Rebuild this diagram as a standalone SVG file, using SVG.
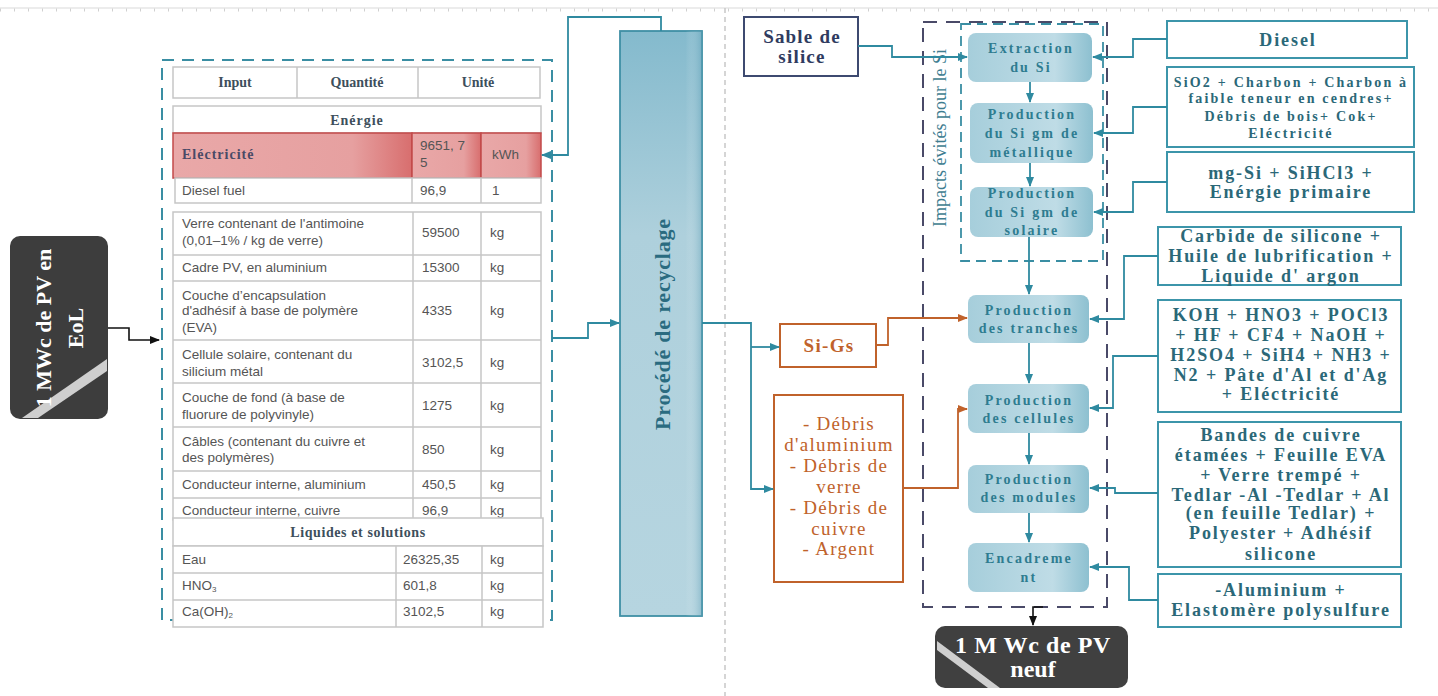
<svg xmlns="http://www.w3.org/2000/svg" width="1438" height="696" viewBox="0 0 1438 696">
<defs>
<style>
.sep{stroke:#c8c8c8;stroke-width:1.5;stroke-dasharray:5 4;fill:none}
.tdash{fill:none;stroke:#3a8ea3;stroke-width:2;stroke-dasharray:12 8}
.ddash{fill:none;stroke:#4a4a68;stroke-width:2;stroke-dasharray:14 9}
.idash{fill:none;stroke:#3a8ea3;stroke-width:1.8;stroke-dasharray:10 6}
.cell{fill:#fff;stroke:#c6c6c6;stroke-width:1.5}
.vl{stroke:#c6c6c6;stroke-width:1.5}
.vr{stroke:#c24a4a;stroke-width:1.5}
.hd{font-family:"Liberation Serif",serif;font-weight:bold;font-size:14px;fill:#3d4f5c;text-anchor:middle}
.tx{font-family:"Liberation Sans",Arial,sans-serif;font-size:13.5px;fill:#555}
.con{fill:none;stroke:#2f8aa0;stroke-width:1.8}
.ora{fill:none;stroke:#c0622b;stroke-width:1.8}
.pbox{fill:url(#pg);stroke:none}
.pt{font-family:"Liberation Serif",serif;font-weight:bold;font-size:14px;fill:#2e7c90;letter-spacing:2.2px;text-anchor:middle}
.rbox{fill:#fff;stroke:#3c95aa;stroke-width:2}
.rt{font-family:"Liberation Serif",serif;font-weight:bold;font-size:18px;fill:#2b6878;letter-spacing:1.9px;text-anchor:middle}
.rs{font-family:"Liberation Serif",serif;font-weight:bold;font-size:14px;fill:#2b6878;letter-spacing:2.2px;text-anchor:middle}
.ob{fill:#fff;stroke:#c0622b;stroke-width:2}
.ot{font-family:"Liberation Serif",serif;font-size:19px;fill:#c0622b;letter-spacing:1.3px;text-anchor:middle}
.wt{font-family:"Liberation Serif",serif;font-weight:bold;fill:#fff;text-anchor:middle}
</style>
<linearGradient id="pg" x1="0" y1="0" x2="1" y2="0">
<stop offset="0" stop-color="#a6cedb"/><stop offset="0.7" stop-color="#bfdce6"/><stop offset="1" stop-color="#8dc0d0"/>
</linearGradient>
<linearGradient id="rg" x1="0" y1="0" x2="0" y2="1">
<stop offset="0" stop-color="#84bacd"/><stop offset="0.35" stop-color="#aed0dc"/><stop offset="1" stop-color="#b6d5e0"/>
</linearGradient>
<linearGradient id="rgEdge" x1="0" y1="0" x2="1" y2="0">
<stop offset="0" stop-color="#ffffff" stop-opacity="0"/><stop offset="0.8" stop-color="#ffffff" stop-opacity="0"/><stop offset="1" stop-color="#5e9fb6" stop-opacity="0.45"/>
</linearGradient>
<linearGradient id="red" x1="0" y1="0" x2="1" y2="0">
<stop offset="0" stop-color="#e9a8a8"/><stop offset="0.75" stop-color="#e6a0a0"/><stop offset="1" stop-color="#d86e6e"/>
</linearGradient>
<marker id="at" viewBox="0 0 10 10" refX="9" refY="5" markerWidth="10" markerHeight="10" orient="auto" markerUnits="userSpaceOnUse"><path d="M0,1 L10,5 L0,9 z" fill="#2f8aa0"/></marker>
<marker id="ao" viewBox="0 0 10 10" refX="9" refY="5" markerWidth="10" markerHeight="10" orient="auto" markerUnits="userSpaceOnUse"><path d="M0,1 L10,5 L0,9 z" fill="#c0622b"/></marker>
<marker id="ak" viewBox="0 0 10 10" refX="9" refY="5" markerWidth="10" markerHeight="10" orient="auto" markerUnits="userSpaceOnUse"><path d="M0,1 L10,5 L0,9 z" fill="#111"/></marker>
</defs>
<rect x="0" y="0" width="1438" height="696" fill="#fff"/>
<!-- top ruler and separator -->
<line x1="0" y1="8" x2="1438" y2="8" stroke="#dadada" stroke-width="1.2"/>
<line x1="0" y1="10" x2="1438" y2="10" stroke="#d0d0d0" stroke-width="3" stroke-dasharray="1 13"/>
<line class="sep" x1="725" y1="8" x2="725" y2="696"/>

<!-- Left node -->
<g id="node-eol">
<rect x="10" y="236" width="98" height="183" rx="10" fill="#3d3d3d"/>
<path d="M22,418 L107,359 L107,371 L38,418 Z" fill="#cfcfcf"/>
<text class="wt" font-size="22" transform="translate(51,328) rotate(-90)">1 MWc de PV en</text>
<text class="wt" font-size="22" transform="translate(83,328) rotate(-90)">EoL</text>
</g>

<!-- Table -->
<g id="node-table">
<rect class="tdash" x="162" y="60" width="390" height="560"/>
<rect class="cell" x="173" y="67" width="367" height="31"/>
<line class="vl" x1="297" y1="67" x2="297" y2="98"/>
<line class="vl" x1="418" y1="67" x2="418" y2="98"/>
<text class="hd" x="235" y="87">Input</text>
<text class="hd" x="357" y="87">Quantité</text>
<text class="hd" x="478" y="87">Unité</text>

<rect class="cell" x="173" y="106" width="368" height="27"/>
<text class="hd" x="357" y="125" letter-spacing="1">Enérgie</text>
<rect x="173" y="133" width="239" height="45" fill="url(#red)" stroke="#c24a4a" stroke-width="1.5"/>
<rect x="412" y="133" width="69" height="45" fill="url(#red)" stroke="#c24a4a" stroke-width="1.5"/>
<rect x="481" y="133" width="60" height="45" fill="url(#red)" stroke="#c24a4a" stroke-width="1.5"/>
<text x="182" y="159" font-family="Liberation Serif,serif" font-weight="bold" font-size="14" fill="#4a4a66" letter-spacing="1">Eléctricité</text>
<text class="tx" x="420" y="150" fill="#6a5060">9651, 7</text>
<text class="tx" x="420" y="167" fill="#6a5060">5</text>
<text class="tx" x="492" y="159" fill="#6a5060">kWh</text>
<rect class="cell" x="175" y="178" width="366" height="25"/>
<line class="vl" x1="412" y1="178" x2="412" y2="203"/>
<line class="vl" x1="481" y1="178" x2="481" y2="203"/>
<text class="tx" x="182" y="195">Diesel fuel</text>
<text class="tx" x="420" y="195">96,9</text>
<text class="tx" x="492" y="195">1</text>

<rect class="cell" x="173" y="212" width="368" height="308"/>
<line class="vl" x1="413" y1="212" x2="413" y2="520"/>
<line class="vl" x1="481" y1="212" x2="481" y2="520"/>
<line class="vl" x1="173" y1="255" x2="541" y2="255"/>
<line class="vl" x1="173" y1="281" x2="541" y2="281"/>
<line class="vl" x1="173" y1="340" x2="541" y2="340"/>
<line class="vl" x1="173" y1="383" x2="541" y2="383"/>
<line class="vl" x1="173" y1="427" x2="541" y2="427"/>
<line class="vl" x1="173" y1="471" x2="541" y2="471"/>
<line class="vl" x1="173" y1="498" x2="541" y2="498"/>

<text class="tx" x="182" y="228">Verre contenant de l'antimoine</text>
<text class="tx" x="182" y="245">(0,01–1% / kg de verre)</text>
<text class="tx" x="422" y="237">59500</text><text class="tx" x="490" y="237">kg</text>
<text class="tx" x="182" y="272">Cadre PV, en aluminium</text>
<text class="tx" x="422" y="272">15300</text><text class="tx" x="490" y="272">kg</text>
<text class="tx" x="182" y="300">Couche d’encapsulation</text>
<text class="tx" x="182" y="315">d'adhésif à base de polymère</text>
<text class="tx" x="182" y="332">(EVA)</text>
<text class="tx" x="422" y="315">4335</text><text class="tx" x="490" y="315">kg</text>
<text class="tx" x="182" y="359">Cellule solaire, contenant du</text>
<text class="tx" x="182" y="376">silicium métal</text>
<text class="tx" x="422" y="367">3102,5</text><text class="tx" x="490" y="367">kg</text>
<text class="tx" x="182" y="402">Couche de fond (à base de</text>
<text class="tx" x="182" y="419">fluorure de polyvinyle)</text>
<text class="tx" x="422" y="410">1275</text><text class="tx" x="490" y="410">kg</text>
<text class="tx" x="182" y="446">Câbles (contenant du cuivre et</text>
<text class="tx" x="182" y="462">des polymères)</text>
<text class="tx" x="422" y="454">850</text><text class="tx" x="490" y="454">kg</text>
<text class="tx" x="182" y="489">Conducteur interne, aluminium</text>
<text class="tx" x="422" y="489">450,5</text><text class="tx" x="490" y="489">kg</text>
<text class="tx" x="182" y="515">Conducteur interne, cuivre</text>
<text class="tx" x="422" y="515">96,9</text><text class="tx" x="490" y="515">kg</text>

<rect class="cell" x="173" y="518" width="370" height="28"/>
<text class="hd" x="358" y="537" letter-spacing="0.6">Liquides et solutions</text>
<rect class="cell" x="173" y="546" width="370" height="81"/>
<line class="vl" x1="173" y1="573" x2="543" y2="573"/>
<line class="vl" x1="173" y1="600" x2="543" y2="600"/>
<line class="vl" x1="396" y1="546" x2="396" y2="627"/>
<line class="vl" x1="482" y1="546" x2="482" y2="627"/>
<text class="tx" x="182" y="564">Eau</text>
<text class="tx" x="403" y="564">26325,35</text><text class="tx" x="490" y="564">kg</text>
<text class="tx" x="182" y="590">HNO<tspan font-size="8" dy="2">3</tspan></text>
<text class="tx" x="403" y="590">601,8</text><text class="tx" x="490" y="590">kg</text>
<text class="tx" x="182" y="616">Ca(OH)<tspan font-size="8" dy="2">2</tspan></text>
<text class="tx" x="403" y="616">3102,5</text><text class="tx" x="490" y="616">kg</text>
</g>

<!-- Recycling process -->
<g id="node-recyclage">
<rect x="620" y="31" width="82" height="585" fill="url(#rg)" stroke="#3f8fa5" stroke-width="1.8"/>
<rect x="620" y="31" width="82" height="585" fill="url(#rgEdge)"/>
<text class="wt" font-size="22" fill="#2a6b80" style="fill:#2a6b80" letter-spacing="0.8" transform="translate(670,324) rotate(-90)">Procédé de recyclage</text>
</g>

<!-- Outputs of recycling -->
<g id="node-sigs">
<rect class="ob" x="780" y="324" width="96" height="43"/>
<text class="ot" x="829" y="352" font-weight="bold">Si-Gs</text>
</g>
<g id="node-debris">
<rect class="ob" x="774" y="395" width="129" height="187"/>
<text class="ot" x="839" y="430">- Débris</text>
<text class="ot" x="839" y="451">d'aluminium</text>
<text class="ot" x="839" y="472">- Débris de</text>
<text class="ot" x="839" y="493">verre</text>
<text class="ot" x="839" y="514">- Débris de</text>
<text class="ot" x="839" y="535">cuivre</text>
<text class="ot" x="839" y="555">- Argent</text>
</g>

<!-- Sable de silice -->
<g id="node-sable">
<rect x="744" y="17" width="114" height="59" fill="#fff" stroke="#3d4a70" stroke-width="2"/>
<text x="802" y="43" font-family="Liberation Serif,serif" font-weight="bold" font-size="19" fill="#2f3b60" letter-spacing="1.2" text-anchor="middle">Sable de</text>
<text x="802" y="63" font-family="Liberation Serif,serif" font-weight="bold" font-size="19" fill="#2f3b60" letter-spacing="1.2" text-anchor="middle">silice</text>
</g>

<!-- Impacts évités group -->
<g id="group-impacts">
<rect class="ddash" x="923" y="22" width="184" height="585"/>
<rect class="idash" x="961" y="24" width="142" height="237"/>
<text x="0" y="0" font-family="Liberation Serif,serif" font-size="18" fill="#3e7d90" text-anchor="middle" transform="translate(946,138) rotate(-90)">Impacts évités pour le Si</text>
</g>

<!-- Process boxes -->
<g id="node-extraction">
<rect class="pbox" x="968" y="33" width="124" height="49" rx="8"/>
<text class="pt" x="1031" y="53">Extraction</text>
<text class="pt" x="1031" y="72">du Si</text>
</g>
<g id="node-metallique">
<rect class="pbox" x="970" y="103" width="123" height="60" rx="8"/>
<text class="pt" x="1032" y="119">Production</text>
<text class="pt" x="1032" y="138">du Si gm de</text>
<text class="pt" x="1032" y="157">métallique</text>
</g>
<g id="node-solaire">
<rect class="pbox" x="970" y="187" width="123" height="50" rx="8"/>
<text class="pt" x="1032" y="198">Production</text>
<text class="pt" x="1032" y="217">du Si gm de</text>
<text class="pt" x="1032" y="235">solaire</text>
</g>
<g id="node-tranches">
<rect class="pbox" x="968" y="295" width="121" height="48" rx="8"/>
<text class="pt" x="1029" y="315">Production</text>
<text class="pt" x="1029" y="333">des tranches</text>
</g>
<g id="node-cellules">
<rect class="pbox" x="968" y="384" width="121" height="49" rx="8"/>
<text class="pt" x="1029" y="405">Production</text>
<text class="pt" x="1029" y="423">des cellules</text>
</g>
<g id="node-modules">
<rect class="pbox" x="968" y="465" width="121" height="48" rx="8"/>
<text class="pt" x="1029" y="484">Production</text>
<text class="pt" x="1029" y="502">des modules</text>
</g>
<g id="node-encadrement">
<rect class="pbox" x="968" y="543" width="121" height="49" rx="8"/>
<text class="pt" x="1029" y="563">Encadreme</text>
<text class="pt" x="1029" y="582">nt</text>
</g>

<!-- PV neuf -->
<g id="node-pv-neuf">
<rect x="935" y="626" width="193" height="62" rx="10" fill="#404040"/>
<path d="M937,641 L1000,688 L988,688 L937,650 Z" fill="#cfcfcf"/>
<text class="wt" font-size="24" x="1033" y="653" letter-spacing="0.6">1 M Wc de PV</text>
<text class="wt" font-size="24" x="1033" y="677">neuf</text>
</g>

<!-- Right input boxes -->
<g id="node-diesel">
<rect class="rbox" x="1167" y="21" width="240" height="37"/>
<text class="rt" x="1288" y="46" font-size="19">Diesel</text>
</g>
<g id="node-sio2">
<rect class="rbox" x="1167" y="67" width="247" height="80"/>
<text class="rs" x="1291" y="87">SiO2 + Charbon + Charbon à</text>
<text class="rs" x="1291" y="103">faible teneur en cendres+</text>
<text class="rs" x="1291" y="121">Débris de bois+ Cok+</text>
<text class="rs" x="1291" y="138">Eléctricité</text>
</g>
<g id="node-mgsi">
<rect class="rbox" x="1167" y="152" width="247" height="60"/>
<text class="rt" x="1291" y="179" font-size="20" letter-spacing="1.5">mg-Si + SiHCl3 +</text>
<text class="rt" x="1291" y="198" font-size="20" letter-spacing="1.5">Enérgie primaire</text>
</g>
<g id="node-carbide">
<rect class="rbox" x="1158" y="227" width="243" height="58"/>
<text class="rt" x="1281" y="242">Carbide de silicone +</text>
<text class="rt" x="1281" y="262">Huile de lubrification +</text>
<text class="rt" x="1281" y="282">Liquide d' argon</text>
</g>
<g id="node-koh">
<rect class="rbox" x="1158" y="300" width="243" height="112"/>
<text class="rt" x="1281" y="321">KOH + HNO3 + POCl3</text>
<text class="rt" x="1281" y="341">+ HF + CF4 + NaOH +</text>
<text class="rt" x="1281" y="361">H2SO4 + SiH4 + NH3 +</text>
<text class="rt" x="1281" y="381">N2 +  Pâte d'Al et d'Ag</text>
<text class="rt" x="1281" y="400">+ Eléctricité</text>
</g>
<g id="node-bandes">
<rect class="rbox" x="1158" y="422" width="243" height="145"/>
<text class="rt" x="1281" y="441">Bandes de cuivre</text>
<text class="rt" x="1281" y="461">étamées + Feuille EVA</text>
<text class="rt" x="1281" y="481">+ Verre trempé +</text>
<text class="rt" x="1281" y="501">Tedlar -Al -Tedlar + Al</text>
<text class="rt" x="1281" y="519">(en feuille Tedlar) +</text>
<text class="rt" x="1281" y="539">Polyester + Adhésif</text>
<text class="rt" x="1281" y="560">silicone</text>
</g>
<g id="node-aluminium">
<rect class="rbox" x="1158" y="574" width="243" height="53"/>
<text class="rt" x="1281" y="596">-Aluminium +</text>
<text class="rt" x="1281" y="616">Elastomère polysulfure</text>
</g>

<!-- Connectors -->
<g id="connectors">
<path d="M108,328 H129 V340 H159" fill="none" stroke="#111" stroke-width="1.6" marker-end="url(#ak)"/>
<path class="con" d="M661,31 V17 H568 V155 H542" marker-end="url(#at)"/>
<path class="con" d="M552,338 H588 V323 H619" marker-end="url(#at)"/>
<path class="con" d="M702,323 H751 V489 H773" marker-end="url(#at)"/>
<path class="con" d="M751,347 H779" marker-end="url(#at)"/>
<path class="ora" d="M876,345 H888 V318 H967" marker-end="url(#ao)"/>
<path class="ora" d="M903,488 H958 V409 H967" marker-end="url(#ao)"/>
<path class="con" d="M858,46 H892 V57 H967" marker-end="url(#at)"/>
<path class="con" d="M1030,82 V102" marker-end="url(#at)"/>
<path class="con" d="M1030,163 V186" marker-end="url(#at)"/>
<path class="con" d="M1029,237 V294" marker-end="url(#at)"/>
<path class="con" d="M1029,343 V383" marker-end="url(#at)"/>
<path class="con" d="M1029,433 V464" marker-end="url(#at)"/>
<path class="con" d="M1029,513 V542" marker-end="url(#at)"/>
<path d="M1043,607 H1033 V625" fill="none" stroke="#111" stroke-width="1.6" marker-end="url(#ak)"/>
<path class="con" d="M1167,39 H1133 V57 H1093" marker-end="url(#at)"/>
<path class="con" d="M1167,107 H1133 V133 H1094" marker-end="url(#at)"/>
<path class="con" d="M1167,182 H1133 V212 H1094" marker-end="url(#at)"/>
<path class="con" d="M1158,256 H1124 V319 H1090" marker-end="url(#at)"/>
<path class="con" d="M1158,356 H1113 V408 H1090" marker-end="url(#at)"/>
<path class="con" d="M1158,493 H1115 V488 H1090" marker-end="url(#at)"/>
<path class="con" d="M1158,600 H1129 V567 H1090" marker-end="url(#at)"/>
</g>
</svg>
